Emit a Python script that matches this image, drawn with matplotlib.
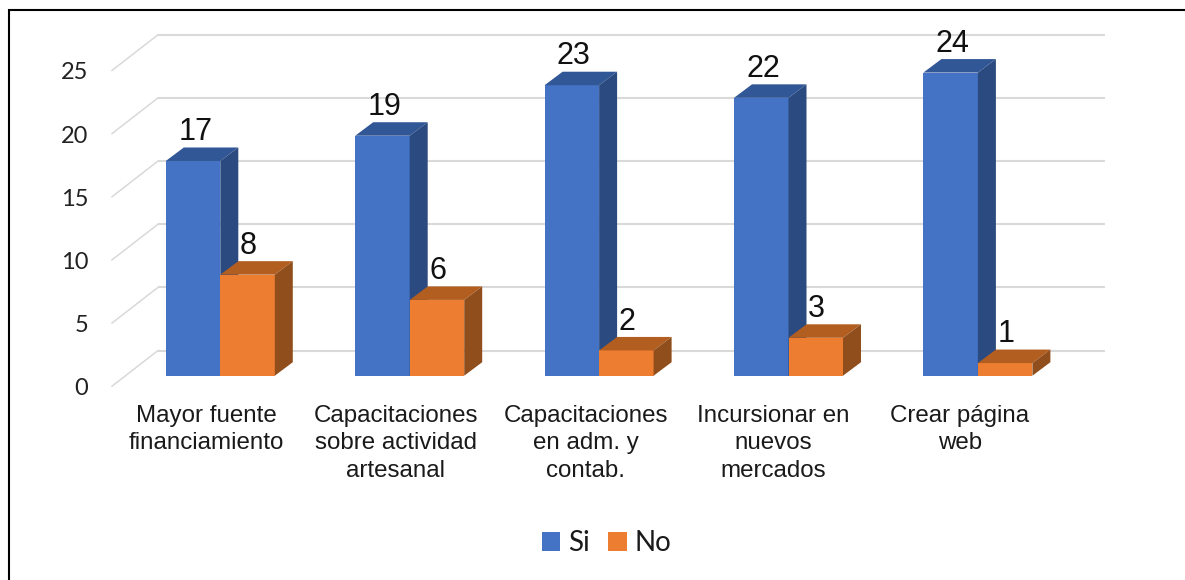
import matplotlib
matplotlib.use("Agg")
import matplotlib.pyplot as plt
from matplotlib.lines import Line2D
from matplotlib.patches import Patch, Polygon
from matplotlib.transforms import ScaledTranslation

categories = ["Mayor fuente\nfinanciamiento",
              "Capacitaciones\nsobre actividad\nartesanal",
              "Capacitaciones\nen adm. y\ncontab.",
              "Incursionar en\nnuevos\nmercados",
              "Crear página\nweb"]
si_values = [17, 19, 23, 22, 24]
no_values = [8, 6, 2, 3, 1]
y_ticks = [0, 5, 10, 15, 20, 25]

W, H, DPI = 1185, 580, 100
PX_X = 189.4          # px per category
PX_Y = 12.63          # px per value unit
X0, Y0 = 220.3, 375.7 # pixel of category 0 / value 0
BAR_W = 54.5 / PX_X
DX, DY = 18 / PX_X, 13.5 / PX_Y
L, R, T, B = 112, 1105, 35, 386

fig = plt.figure(figsize=(W / DPI, H / DPI), dpi=DPI, facecolor="white")
ax = fig.add_axes([L / W, 1 - B / H, (R - L) / W, (B - T) / H])
ax.set_xlim((L - X0) / PX_X, (R - X0) / PX_X)
ax.set_ylim((Y0 - B) / PX_Y, (Y0 - T) / PX_Y)
ax.patch.set_alpha(0)
for s in ax.spines.values():
    s.set_visible(False)

# back wall gridlines with their side-wall diagonals
GRID = "#D9D9D9"
back_dy = 25.2 / PX_Y
wall_dy = 10.5 / PX_Y
x_back = (158 - X0) / PX_X
x_front = (112 - X0) / PX_X
for v in y_ticks:
    ax.plot([x_back, (R - X0) / PX_X], [v + back_dy] * 2, color=GRID, lw=1.5,
            zorder=1, solid_capstyle="butt", clip_on=False)
    ax.plot([x_front, x_back], [v - wall_dy, v + back_dy], color=GRID, lw=1.1,
            zorder=1, clip_on=False)


def bars_3d(positions, values, front, top, side, align_left):
    offs = [p - BAR_W if align_left else p for p in positions]
    cont = ax.bar(offs, values, width=BAR_W, align="edge", color=front, zorder=3, linewidth=0)
    for rect, v in zip(cont, values):
        x0, x1 = rect.get_x(), rect.get_x() + rect.get_width()
        ax.add_patch(Polygon([(x0, v), (x1, v), (x1 + DX, v + DY), (x0 + DX, v + DY)],
                             closed=True, fc=top, ec="none", zorder=3))
        ax.add_patch(Polygon([(x1, 0), (x1, v), (x1 + DX, v + DY), (x1 + DX, DY)],
                             closed=True, fc=side, ec="none", zorder=3))
    return cont


pos = list(range(len(categories)))
BLUE, ORANGE = "#4472C4", "#ED7D31"
bars_3d(pos, si_values, BLUE, "#325796", "#2B4A80", True)
bars_3d(pos, no_values, ORANGE, "#B25E20", "#8F4E1B", False)

LABEL_FONT = "Liberation Sans"
for p, a, b in zip(pos, si_values, no_values):
    ax.annotate(str(a), (p - BAR_W / 2, a), xytext=(1.5, 15), textcoords="offset points",
                ha="center", va="baseline", fontsize=22, family=LABEL_FONT,
                color="#111111", zorder=5)
    ax.annotate(str(b), (p + BAR_W / 2, b), xytext=(0.5, 15), textcoords="offset points",
                ha="center", va="baseline", fontsize=22, family=LABEL_FONT,
                color="#111111", zorder=5)

# ticks
ax.set_yticks(y_ticks)
ax.set_xticks(pos)
ax.set_xticklabels(categories, fontsize=17.4, family=LABEL_FONT, color="#1A1A1A",
                   linespacing=1.33)
ax.tick_params(axis="both", length=0)
ax.tick_params(axis="y", pad=17, labelsize=17, labelcolor="#222222")
ax.tick_params(axis="x", pad=13.5)
for lab in ax.get_yticklabels():
    lab.set_family("Lato")
    lab.set_transform(lab.get_transform() + ScaledTranslation(0, -11 / DPI, fig.dpi_scale_trans))
label_shift_px = [-13.5, -14, -13.5, -15, -18]
for lab, sh in zip(ax.get_xticklabels(), label_shift_px):
    lab.set_transform(lab.get_transform() + ScaledTranslation(sh / DPI, 0, fig.dpi_scale_trans))

# legend
handles = [Patch(fc=BLUE, ec="none", label="Si"), Patch(fc=ORANGE, ec="none", label="No")]
fig.legend(handles=handles, loc="center", bbox_to_anchor=(606.5 / W, 1 - 543 / H), ncol=2,
           frameon=False, prop={"family": "Lato", "size": 20},
           handlelength=0.65, handleheight=0.65, handletextpad=0.29,
           columnspacing=0.68, borderpad=0, borderaxespad=0, labelcolor="#1A1A1A")

# outer frame
fig.add_artist(Line2D([8.5 / W, 8.5 / W, 1], [0, 1 - 9.5 / H, 1 - 9.5 / H],
                      transform=fig.transFigure, color="black", lw=1.5,
                      solid_joinstyle="miter"))

fig.savefig("out.png", dpi=DPI, facecolor="white")
